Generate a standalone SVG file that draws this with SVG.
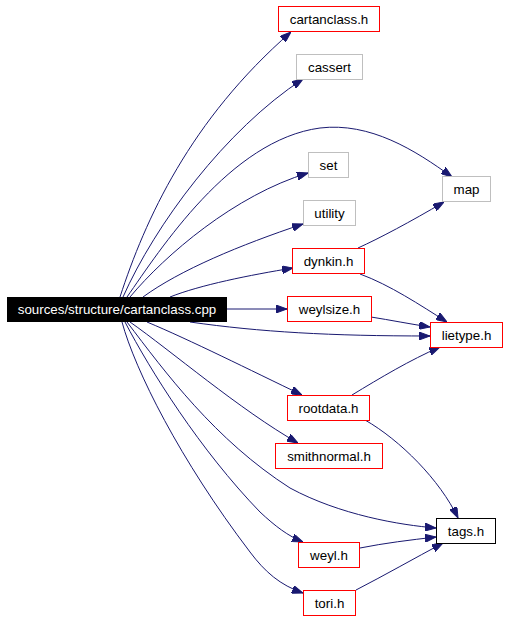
<svg xmlns="http://www.w3.org/2000/svg" width="507" height="619" viewBox="0 0 507 619">
<style>
.n rect{fill:#fff;stroke-width:1}
.r rect{stroke:#ff0000}
.g rect{stroke:#bfbfbf}
.k rect{stroke:#000}
text{font-family:"Liberation Sans",Arial,sans-serif;font-size:13.33px;text-anchor:middle;fill:#000}
.e path{fill:none;stroke:#191970;stroke-width:1;marker-end:url(#a)}
</style>
<defs>
<marker id="a" markerUnits="userSpaceOnUse" markerWidth="11" markerHeight="8" viewBox="0 0 11 8" refX="11" refY="4" orient="auto">
<path d="M0,0 L11,4 L0,8 z" fill="#191970" stroke="#191970"/>
</marker>
</defs>
<rect width="507" height="619" fill="#fff"/>
<g id="edges" class="e">
<path d="M120,297 C145,220 190,120 291,32"/>
<path d="M123,297 C155,225 225,130 303,79"/>
<path d="M127,297 C160,250 230,140 320,128 C370,122 415,150 452,177"/>
<path d="M130,297 C165,255 235,195 308,173"/>
<path d="M143,297 C180,270 240,245 303,224"/>
<path d="M170,297 C200,285 250,275 293,268"/>
<path d="M227,309 L287,309"/>
<path d="M190,322 C260,332 330,336 430,336"/>
<path d="M147,322 C190,340 250,370 302,395"/>
<path d="M130,322 C170,350 240,410 298,443"/>
<path d="M127,322 C165,372 215,440 290,488 C340,515 400,525 436,528"/>
<path d="M125,322 C150,370 200,450 260,512 C275,526 288,536 303,542"/>
<path d="M122,322 C135,370 180,460 250,552 C265,572 280,585 303,593"/>
<path d="M358,248 C380,238 410,222 444,202"/>
<path d="M360,274 C390,285 420,305 447,322"/>
<path d="M371,317 C390,320 410,324 430,327"/>
<path d="M352,395 C380,378 410,360 440,347"/>
<path d="M365,420 C400,440 440,480 458,518"/>
<path d="M360,548 C385,543 410,540 436,537"/>
<path d="M356,590 C385,575 415,558 443,543"/>
</g>
<g id="source"><rect x="7" y="297" width="220" height="25" fill="#000"/><text x="117" y="314" style="fill:#fff">sources/structure/cartanclass.cpp</text></g>
<g id="cartanclass_h" class="n r"><rect x="278.5" y="6.5" width="101" height="25"/><text x="329" y="24">cartanclass.h</text></g>
<g id="cassert" class="n g"><rect x="296.5" y="54.5" width="66" height="25"/><text x="329.5" y="72">cassert</text></g>
<g id="set" class="n g"><rect x="308.5" y="152.5" width="40" height="25"/><text x="328.5" y="170">set</text></g>
<g id="map" class="n g"><rect x="442.5" y="176.5" width="48" height="25"/><text x="466.5" y="194">map</text></g>
<g id="utility" class="n g"><rect x="303.5" y="200.5" width="52" height="25"/><text x="329.5" y="218">utility</text></g>
<g id="dynkin_h" class="n r"><rect x="292.5" y="248.5" width="72" height="25"/><text x="328.5" y="266">dynkin.h</text></g>
<g id="weylsize_h" class="n r"><rect x="287.5" y="296.5" width="84" height="25"/><text x="329.5" y="314">weylsize.h</text></g>
<g id="lietype_h" class="n r"><rect x="430.5" y="322.5" width="72" height="25"/><text x="466.5" y="340">lietype.h</text></g>
<g id="rootdata_h" class="n r"><rect x="287.5" y="395.5" width="82" height="25"/><text x="328.5" y="413">rootdata.h</text></g>
<g id="smithnormal_h" class="n r"><rect x="275.5" y="443.5" width="107" height="25"/><text x="329" y="461">smithnormal.h</text></g>
<g id="tags_h" class="n k"><rect x="436.5" y="518.5" width="59" height="25"/><text x="466" y="536">tags.h</text></g>
<g id="weyl_h" class="n r"><rect x="298.5" y="542.5" width="61" height="25"/><text x="329" y="560">weyl.h</text></g>
<g id="tori_h" class="n r"><rect x="303.5" y="590.5" width="52" height="25"/><text x="329.5" y="608">tori.h</text></g>
</svg>
